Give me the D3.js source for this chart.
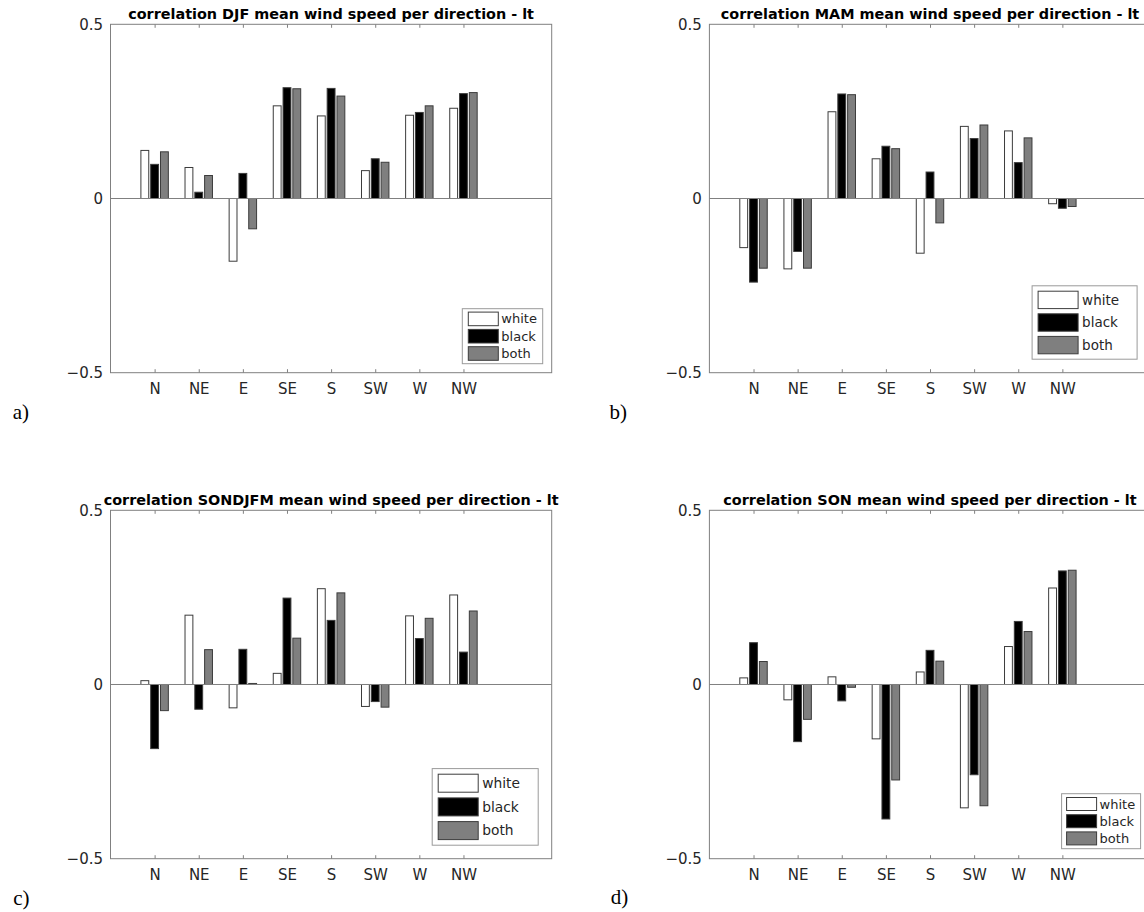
<!DOCTYPE html>
<html>
<head>
<meta charset="utf-8">
<script src="https://cdn.jsdelivr.net/npm/d3@7"></script>
<style>
  html, body { margin: 0; padding: 0; background: #ffffff; }
  svg { display: block; }
</style>
</head>
<body>
<svg id="chart" width="1144" height="912"></svg>
<script>
// Wind directions on the x axis and the three station groups
const directions = ["N", "NE", "E", "SE", "S", "SW", "W", "NW"];
const seriesNames = ["white", "black", "both"];
const seriesFill = ["#ffffff", "#000000", "#7f7f7f"];
const yTicks = [-0.5, 0, 0.5];

const panelTitles = [
  "correlation DJF mean wind speed per direction - lt",
  "correlation MAM mean wind speed per direction - lt",
  "correlation SONDJFM mean wind speed per direction - lt",
  "correlation SON mean wind speed per direction - lt"
];
const panelTags = ["a)", "b)", "c)", "d)"];

// Correlations per direction, one array per season and group
const djfWhite = [0.138, 0.089, -0.180, 0.266, 0.237, 0.080, 0.239, 0.259];
const djfBlack = [0.098, 0.018, 0.072, 0.318, 0.316, 0.114, 0.247, 0.301];
const djfBoth  = [0.134, 0.066, -0.087, 0.315, 0.294, 0.104, 0.266, 0.304];

const mamWhite = [-0.141, -0.202, 0.249, 0.114, -0.157, 0.207, 0.194, -0.015];
const mamBlack = [-0.240, -0.152, 0.300, 0.150, 0.076, 0.172, 0.103, -0.028];
const mamBoth  = [-0.200, -0.200, 0.298, 0.143, -0.070, 0.211, 0.174, -0.023];

const sondjfmWhite = [0.011, 0.199, -0.067, 0.032, 0.275, -0.063, 0.197, 0.257];
const sondjfmBlack = [-0.184, -0.071, 0.101, 0.248, 0.184, -0.049, 0.132, 0.093];
const sondjfmBoth  = [-0.075, 0.100, 0.003, 0.133, 0.263, -0.065, 0.190, 0.211];

const sonWhite = [0.019, -0.044, 0.022, -0.156, 0.036, -0.354, 0.109, 0.277];
const sonBlack = [0.120, -0.164, -0.047, -0.386, 0.098, -0.259, 0.181, 0.326];
const sonBoth  = [0.066, -0.100, -0.008, -0.274, 0.067, -0.348, 0.152, 0.328];

const panelSeries = [
  [djfWhite, djfBlack, djfBoth],
  [mamWhite, mamBlack, mamBoth],
  [sondjfmWhite, sondjfmBlack, sondjfmBoth],
  [sonWhite, sonBlack, sonBoth]
];

// Layout of the four axes and their legends
const plotW = 441.2, plotH = 348.4;
const panels = [
  { left: 110.5, top: 24.3, tagX: 12.7, tagY: 419,
    legend: { w: 80.4, h: 55, pad: 6, sw: 30, sh: 13.6, row: 17.3, inset: 9, font: 13, gap: 3 } },
  { left: 709.4, top: 24.3, tagX: 609.6, tagY: 419,
    legend: { w: 105, h: 73.4, pad: 6, sw: 40, sh: 17.4, row: 22.6, inset: 13.5, font: 13.5, gap: 4 } },
  { left: 110.5, top: 510.3, tagX: 13.2, tagY: 904.5,
    legend: { w: 106, h: 76.6, pad: 6, sw: 40, sh: 18, row: 23.7, inset: 13.5, font: 13.8, gap: 4 } },
  { left: 709.4, top: 510.3, tagX: 610.7, tagY: 903.5,
    legend: { w: 79, h: 55, pad: 5, sw: 30, sh: 13, row: 17.2, inset: 10, font: 13, gap: 3 } }
];

const sansFont = "DejaVu Sans, Liberation Sans, sans-serif";
const serifFont = "Liberation Serif, DejaVu Serif, serif";

const svg = d3.select("#chart");
svg.append("rect").attr("width", 1144).attr("height", 912).attr("fill", "#ffffff");

const x = d3.scaleLinear().domain([0, 10]).range([0, plotW]);
const y = d3.scaleLinear().domain([-0.5, 0.5]).range([plotH, 0]);
const groupOffset = 0.222;   // spacing of grouped bars, in category units
const barWidth = 0.178;      // bar width, in category units
const lineColor = "#808080";
const edgeColor = "#3c3c3c";

panels.forEach((p, pi) => {
  const g = svg.append("g").attr("transform", `translate(${p.left},${p.top})`);

  // bars
  panelSeries[pi].forEach((vals, si) => {
    g.append("g").selectAll("rect")
      .data(vals)
      .join("rect")
      .attr("x", (d, i) => x(i + 1 + (si - 1) * groupOffset - barWidth / 2))
      .attr("width", x(barWidth) - x(0))
      .attr("y", d => y(Math.max(0, d)))
      .attr("height", d => Math.abs(y(d) - y(0)))
      .attr("fill", seriesFill[si])
      .attr("stroke", edgeColor)
      .attr("stroke-width", 1);
  });

  // zero baseline
  g.append("line")
    .attr("x1", 0).attr("x2", plotW)
    .attr("y1", y(0)).attr("y2", y(0))
    .attr("stroke", lineColor).attr("stroke-width", 1);

  // axes: inward ticks on bottom and top, labels below and to the left
  const xAxis = d3.axisBottom(x)
    .tickValues(d3.range(1, directions.length + 1))
    .tickFormat(d => directions[d - 1])
    .tickSizeInner(-3.5).tickSizeOuter(0).tickPadding(11);
  const gx = g.append("g").attr("transform", `translate(0,${plotH})`).call(xAxis);

  const xTop = d3.axisTop(x)
    .tickValues(d3.range(1, directions.length + 1))
    .tickFormat("")
    .tickSizeInner(-3.5).tickSizeOuter(0);
  const gt = g.append("g").call(xTop);

  const yAxis = d3.axisLeft(y)
    .tickValues(yTicks)
    .tickFormat(d3.format(""))
    .tickSizeInner(0).tickSizeOuter(0).tickPadding(7.5);
  const gy = g.append("g").call(yAxis);

  [gx, gt, gy].forEach(a => {
    a.attr("font-family", sansFont).attr("font-size", 15);
    a.select(".domain").remove();
    a.selectAll(".tick line").attr("stroke", lineColor);
    a.selectAll(".tick text").attr("fill", "#262626");
  });

  // axes box
  g.append("rect")
    .attr("x", 0).attr("y", 0).attr("width", plotW).attr("height", plotH)
    .attr("fill", "none").attr("stroke", lineColor).attr("stroke-width", 1);

  // title
  g.append("text")
    .attr("x", plotW / 2).attr("y", -5)
    .attr("text-anchor", "middle")
    .attr("font-family", sansFont)
    .attr("font-size", 14.4).attr("font-weight", "bold")
    .attr("fill", "#000000")
    .text(panelTitles[pi]);

  // legend, lower right corner
  const L = p.legend;
  const lg = g.append("g")
    .attr("transform", `translate(${plotW - L.inset - L.w},${plotH - L.inset - L.h})`);
  lg.append("rect")
    .attr("width", L.w).attr("height", L.h)
    .attr("fill", "#ffffff").attr("stroke", "#9a9a9a").attr("stroke-width", 1);
  const topPad = (L.h - (L.row * 2 + L.sh)) / 2;
  seriesNames.forEach((name, si) => {
    const ry = topPad + si * L.row;
    lg.append("rect")
      .attr("x", L.pad).attr("y", ry)
      .attr("width", L.sw).attr("height", L.sh)
      .attr("fill", seriesFill[si]).attr("stroke", edgeColor).attr("stroke-width", 1);
    lg.append("text")
      .attr("x", L.pad + L.sw + L.gap).attr("y", ry + L.sh / 2)
      .attr("dy", "0.35em")
      .attr("font-family", sansFont)
      .attr("font-size", L.font)
      .attr("fill", "#262626")
      .text(name);
  });

  // panel tag
  svg.append("text")
    .attr("x", p.tagX).attr("y", p.tagY)
    .attr("font-family", serifFont)
    .attr("font-size", 21)
    .attr("fill", "#000000")
    .text(panelTags[pi]);
});
</script>
</body>
</html>
